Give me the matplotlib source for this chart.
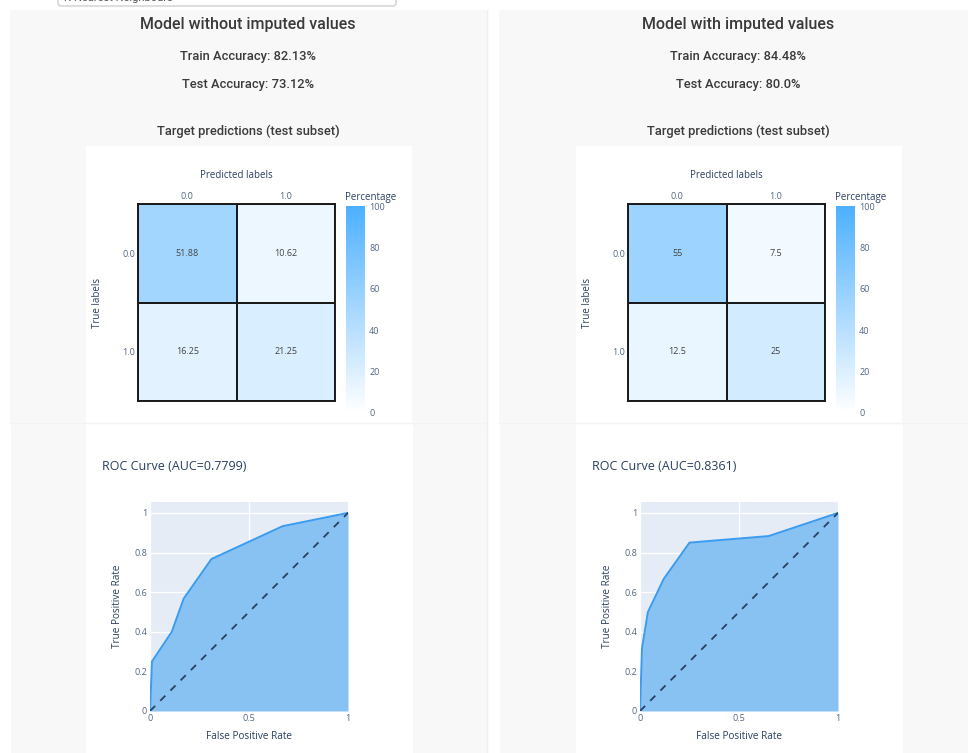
import matplotlib.pyplot as plt
from matplotlib.colors import LinearSegmentedColormap
from matplotlib.patches import Rectangle, FancyBboxPatch

W, H = 968, 753

# confusion matrices (percent of test subset)
class_labels = ['0.0', '1.0']
cm_without = [[51.88, 10.62], [16.25, 21.25]]
cm_with = [[55, 7.5], [12.5, 25]]

# ROC curve points
fpr_without = [0, 0.01, 0.11, 0.17, 0.31, 0.67, 1]
tpr_without = [0, 0.25, 0.40, 0.567, 0.767, 0.933, 1]
fpr_with = [0, 0.01, 0.04, 0.12, 0.25, 0.65, 1]
tpr_with = [0, 0.317, 0.50, 0.667, 0.85, 0.883, 1]
auc_without = 0.7799
auc_with = 0.8361

# accuracies
train_acc = [82.13, 84.48]
test_acc = [73.12, 80.0]
panel_titles = ['Model without imputed values', 'Model with imputed values']

HEAD = ['Roboto', 'DejaVu Sans']
PLOTLY = ['Open Sans', 'DejaVu Sans']
cmap = LinearSegmentedColormap.from_list('pct', ['#ffffff', '#4db0ff'])

fig = plt.figure(figsize=(W / 100, H / 100), dpi=100)
fig.patch.set_facecolor('white')


def px_axes(x0, y0, x1, y1):
    return fig.add_axes([x0 / W, 1 - y1 / H, (x1 - x0) / W, (y1 - y0) / H])


# page background: grey columns, white cards
bg = fig.add_axes([0, 0, 1, 1])
bg.set_xlim(0, W)
bg.set_ylim(H, 0)
bg.axis('off')

for x0, x1 in [(10, 487), (499, 975)]:
    bg.add_patch(Rectangle((x0, 10), x1 - x0, 413, fc='#f8f8f8', ec='none'))
    bg.add_patch(Rectangle((x0 + 1, 423), x1 - x0, 335, fc='#f8f8f8', ec='none'))
    bg.plot([x1 - 0.5, x1 - 0.5], [10, H], color='#efefef', lw=1)
    bg.plot([x0, x1], [423, 423], color='#f3f3f3', lw=1)
for off in [0, 490]:
    bg.add_patch(Rectangle((86 + off, 146), 326, 277, fc='white', ec='none'))
    bg.add_patch(Rectangle((86 + off, 424), 327, 335, fc='white', ec='none'))

# model selector dropdown, scrolled mostly out of view
bg.add_patch(FancyBboxPatch((58, -20), 338, 26, boxstyle='round,pad=0,rounding_size=3',
                            fc='white', ec='#d0d0d0', lw=1))
bg.text(64, 3, 'K-Nearest Neighbours', family=HEAD, fontsize=8, color='#555555',
        va='bottom', ha='left')


def draw_column(i, cm, fpr, tpr, auc):
    off = 490 * i
    cx = 248 + off
    bg.text(cx, 24, panel_titles[i], family=HEAD, weight='medium', fontsize=11.5,
            color='#3a3a3a', ha='center', va='center')
    bg.text(cx, 56, f'Train Accuracy: {train_acc[i]}%', family=HEAD, weight='medium',
            fontsize=9.3, color='#3a3a3a', ha='center', va='center')
    bg.text(cx, 84, f'Test Accuracy: {test_acc[i]}%', family=HEAD, weight='medium',
            fontsize=9.3, color='#3a3a3a', ha='center', va='center')
    bg.text(cx, 131, 'Target predictions (test subset)', family=HEAD, weight='medium',
            fontsize=9.3, color='#3a3a3a', ha='center', va='center')

    # confusion matrix heatmap
    ax = px_axes(138 + off, 204, 335 + off, 401)
    mesh = ax.pcolormesh(cm, cmap=cmap, vmin=0, vmax=100,
                         edgecolors='#1a1a1a', linewidth=1.2)
    ax.set_xlim(0, 2)
    ax.set_ylim(2, 0)
    for r in range(2):
        for c in range(2):
            ax.text(c + 0.5, r + 0.5, f'{cm[r][c]:g}', ha='center', va='center',
                    family=PLOTLY, fontsize=6.5, color='#444444')
    ax.xaxis.tick_top()
    ax.xaxis.set_label_position('top')
    ax.set_xticks([0.5, 1.5], class_labels)
    ax.set_yticks([0.5, 1.5], class_labels)
    ax.tick_params(length=0, labelsize=6.5, labelcolor='#506784', pad=2)
    for lab in ax.get_xticklabels() + ax.get_yticklabels():
        lab.set_family(PLOTLY)
    ax.set_xlabel('Predicted labels', family=PLOTLY, fontsize=7, color='#2a3f5f', labelpad=10)
    ax.set_ylabel('True labels', family=PLOTLY, fontsize=7, color='#2a3f5f', labelpad=14)
    for s in ax.spines.values():
        s.set_color('#1a1a1a')
        s.set_linewidth(1.4)

    cax = px_axes(346 + off, 206, 365 + off, 413)
    cb = fig.colorbar(mesh, cax=cax, ticks=range(0, 101, 20))
    cb.outline.set_visible(False)
    cax.tick_params(length=0, labelsize=6.5, labelcolor='#506784', pad=3)
    for lab in cax.get_yticklabels():
        lab.set_family(PLOTLY)
    bg.text(345 + off, 197, 'Percentage', family=PLOTLY, fontsize=7, color='#2a3f5f',
            ha='left', va='center')

    # ROC curve
    bg.text(102 + off, 466, f'ROC Curve (AUC={auc})', family=PLOTLY, fontsize=9,
            color='#2a3f5f', ha='left', va='center')
    rx = px_axes(150 + off, 502, 348 + off, 711)
    rx.set_facecolor('#e5ecf6')
    rx.set_xlim(0, 1)
    rx.set_ylim(0, 1.055)
    rx.set_xticks([0, 0.5, 1], ['0', '0.5', '1'])
    rx.set_yticks([0, 0.2, 0.4, 0.6, 0.8, 1], ['0', '0.2', '0.4', '0.6', '0.8', '1'])
    rx.grid(color='white', lw=0.9)
    rx.set_axisbelow(True)
    rx.fill_between(fpr, tpr, color='#88c2f2', lw=0, zorder=2)
    rx.plot(fpr, tpr, color='#3a9bf0', lw=1.4, zorder=3)
    rx.plot([0, 1], [0, 1], color='#2a3f5f', lw=1.3, dashes=(4, 4), zorder=4)
    rx.tick_params(length=0, labelsize=6.5, labelcolor='#506784', pad=2)
    for lab in rx.get_xticklabels() + rx.get_yticklabels():
        lab.set_family(PLOTLY)
    for s in rx.spines.values():
        s.set_visible(False)
    rx.set_xlabel('False Positive Rate', family=PLOTLY, fontsize=7.2, color='#2a3f5f', labelpad=6)
    rx.set_ylabel('True Positive Rate', family=PLOTLY, fontsize=7.2, color='#2a3f5f', labelpad=8)


draw_column(0, cm_without, fpr_without, tpr_without, auc_without)
draw_column(1, cm_with, fpr_with, tpr_with, auc_with)

fig.savefig('out.png', dpi=100, facecolor='white')
